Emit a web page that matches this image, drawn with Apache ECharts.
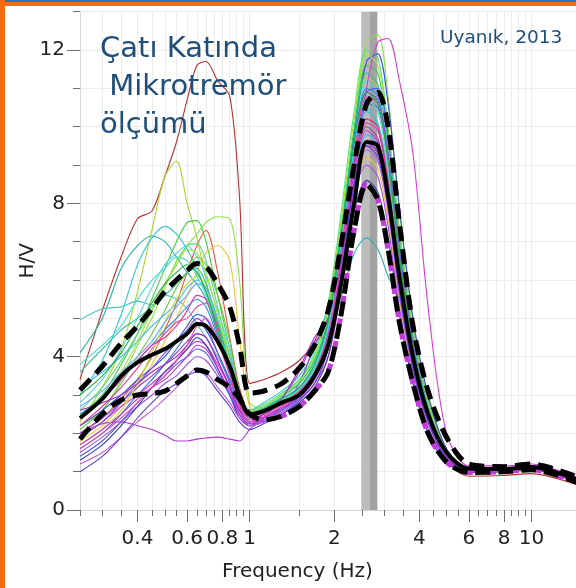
<!DOCTYPE html>
<html>
<head>
<meta charset="utf-8">
<script src="https://cdn.jsdelivr.net/npm/echarts@6/dist/echarts.min.js"></script>
<style>
  html, body { margin: 0; padding: 0; background: #ffffff; }
  #chart { width: 576px; height: 588px; }
</style>
</head>
<body>
<div id="chart"></div>
<script>
// Frequency samples (Hz) shared by every H/V curve
const freq = [0.25, 0.3, 0.35, 0.4, 0.45, 0.5, 0.55, 0.6, 0.65, 0.7, 0.77, 0.85, 0.92, 1.0,
              1.12, 1.3, 1.5, 1.7, 1.9, 2.1, 2.35, 2.6, 2.85, 3.1, 3.4, 3.8, 4.3, 5.0, 6.0, 8.0, 10, 15];

// Axis ticks and labels
const minorTickFreqs = [0.25, 0.3, 0.35, 0.4, 0.45, 0.5, 0.55, 0.6, 0.65, 0.7, 0.75, 0.8, 0.85, 0.9, 0.95, 1,
                        1.5, 2, 2.5, 3, 3.5, 4, 4.5, 5, 5.5, 6, 6.5, 7, 7.5, 8, 8.5, 9, 9.5, 10];
const majorTickFreqs = [0.4, 0.6, 0.8, 1, 2, 4, 6, 8, 10];
const majorTickHV = [0, 4, 8, 12];

// Selected peak frequency range (Hz)
const peakBandLow = [2.49, 2.66];
const peakBandHigh = [2.66, 2.84];

// Average curve and average +/- one standard deviation
const hvMean  = [2.4, 2.9, 3.5, 3.85, 4.05, 4.2, 4.4, 4.6, 4.85, 4.8, 4.4, 3.75, 3.0, 2.5,
                 2.58, 2.8, 3.0, 3.5, 4.3, 5.8, 8.0, 9.6, 9.5, 8.2, 6.1, 4.0, 2.5, 1.5, 1.08, 1.07, 1.12, 0.75];
const hvUpper = [3.13, 3.75, 4.35, 4.8, 5.25, 5.7, 6.0, 6.25, 6.43, 6.35, 5.9, 5.3, 4.3, 3.05,
                 3.1, 3.3, 3.7, 4.3, 5.2, 6.8, 9.0, 10.6, 10.9, 10.0, 7.5, 4.8, 3.1, 1.9, 1.2, 1.13, 1.2, 0.82];
const hvLower = [1.85, 2.5, 2.87, 3.0, 3.04, 3.1, 3.3, 3.5, 3.65, 3.6, 3.4, 3.2, 2.9, 2.5,
                 2.35, 2.45, 2.7, 3.1, 3.6, 5.0, 7.3, 8.5, 8.1, 6.8, 4.9, 3.3, 2.0, 1.25, 0.98, 1.0, 1.05, 0.68];

// Individual measurement windows
const hv01 = [3.4, 5.2, 6.6, 7.6, 7.8, 8.7, 9.6, 10.7, 11.6, 11.7, 11.2, 10.8, 8.2, 3.3,
              3.4, 3.6, 3.9, 4.4, 5.3, 7.0, 9.0, 10.2, 10.0, 8.6, 6.3, 4.0, 2.4, 1.3, 0.88, 0.9, 0.95, 0.62];
const hv02 = [2.3, 3.2, 4.2, 5.7, 7.3, 8.7, 9.1, 8.0, 7.1, 6.0, 4.7, 3.7, 2.9, 2.6,
              2.7, 3.0, 3.3, 3.9, 5.0, 7.0, 9.8, 11.3, 11.0, 9.4, 6.9, 4.4, 2.7, 1.5, 1.05, 1.06, 1.12, 0.75];
const hv03 = [2.2, 2.6, 3.4, 4.3, 5.0, 5.8, 6.5, 6.9, 7.2, 7.5, 7.65, 7.6, 6.0, 2.8,
              2.65, 2.9, 3.2, 3.8, 4.9, 6.9, 10.0, 12.2, 12.4, 10.8, 7.8, 4.9, 2.9, 1.6, 1.1, 1.1, 1.16, 0.8];
const hv04 = [3.0, 3.9, 5.1, 6.4, 7.1, 7.4, 7.2, 6.8, 6.3, 5.7, 4.9, 4.0, 3.0, 2.6,
              2.8, 3.1, 3.5, 4.2, 5.4, 7.3, 9.5, 10.5, 10.0, 8.4, 6.0, 3.8, 2.3, 1.4, 1.05, 1.05, 1.1, 0.72];
const hv05 = [4.1, 5.0, 6.3, 6.9, 7.15, 7.0, 6.6, 6.2, 5.9, 5.5, 4.6, 3.7, 2.9, 2.5,
              2.7, 2.9, 3.2, 3.7, 4.4, 5.5, 6.7, 7.1, 6.8, 6.1, 5.5, 4.5, 2.8, 1.5, 1.05, 1.05, 1.1, 0.72];
const hv06 = [4.96, 5.25, 5.3, 5.45, 5.35, 5.6, 5.5, 5.25, 4.85, 4.5, 4.0, 3.4, 2.8, 2.5,
              2.6, 2.8, 3.1, 3.6, 4.5, 6.2, 8.6, 9.8, 9.6, 8.2, 5.9, 3.8, 2.3, 1.4, 1.05, 1.05, 1.1, 0.72];
const hv07 = [2.5, 3.0, 3.8, 4.6, 5.5, 6.3, 7.0, 7.5, 7.55, 7.0, 5.6, 4.2, 3.0, 2.55,
              2.7, 3.0, 3.4, 4.0, 5.2, 7.2, 9.9, 11.6, 11.4, 9.8, 7.2, 4.6, 2.8, 1.55, 1.08, 1.08, 1.14, 0.78];
const hv08 = [2.0, 2.4, 2.9, 3.4, 4.0, 4.7, 5.4, 6.2, 6.9, 7.3, 6.2, 4.5, 3.2, 2.6,
              2.6, 2.8, 3.0, 3.5, 4.5, 6.3, 8.6, 9.6, 9.3, 8.0, 5.8, 3.7, 2.3, 1.35, 0.98, 1.0, 1.04, 0.68];
const hv09 = [1.8, 2.2, 2.7, 3.2, 3.8, 4.4, 5.0, 5.6, 6.2, 6.7, 6.9, 6.5, 4.5, 2.7,
              2.5, 2.7, 2.9, 3.3, 4.2, 6.0, 8.3, 9.2, 8.9, 7.6, 5.5, 3.6, 2.3, 1.35, 1.0, 1.02, 1.06, 0.7];
const hv10 = [2.8, 3.4, 4.2, 5.0, 5.8, 6.4, 6.7, 6.9, 6.6, 6.1, 5.2, 4.2, 3.1, 2.6,
              2.7, 3.0, 3.3, 3.9, 5.0, 7.0, 9.7, 11.2, 10.9, 9.4, 6.8, 4.3, 2.6, 1.5, 1.06, 1.07, 1.13, 0.75];
const hv11 = [2.6, 3.2, 3.9, 4.6, 5.2, 5.9, 6.4, 6.9, 6.95, 6.5, 5.3, 4.0, 3.0, 2.6,
              2.75, 3.05, 3.4, 4.1, 5.4, 7.6, 10.4, 12.0, 11.8, 10.0, 7.2, 4.6, 2.8, 1.55, 1.08, 1.08, 1.15, 0.78];
const hv12 = [2.1, 2.6, 3.3, 4.0, 4.6, 5.2, 5.8, 6.2, 6.6, 6.4, 5.6, 4.4, 3.1, 2.55,
              2.6, 2.85, 3.15, 3.7, 4.7, 6.6, 9.2, 10.4, 10.1, 8.7, 6.3, 4.0, 2.5, 1.45, 1.05, 1.05, 1.1, 0.73];
const hv13 = [1.6, 2.0, 2.5, 3.0, 3.4, 3.8, 4.2, 4.6, 4.9, 4.7, 4.1, 3.4, 2.7, 2.3,
              2.4, 2.65, 2.95, 3.4, 4.3, 6.2, 9.0, 10.6, 10.5, 9.2, 6.8, 4.4, 2.7, 1.5, 1.05, 1.06, 1.12, 0.74];
const hv14 = [2.2, 2.6, 3.0, 3.4, 3.7, 4.0, 4.4, 4.8, 5.1, 5.0, 4.4, 3.6, 2.8, 2.4,
              2.55, 2.8, 3.1, 3.6, 4.6, 6.7, 9.8, 11.7, 11.9, 10.6, 7.9, 5.0, 3.0, 1.6, 1.1, 1.1, 1.15, 0.78];
const hv15 = [2.0, 2.4, 2.8, 3.2, 3.5, 3.8, 4.1, 4.4, 4.6, 4.5, 3.9, 3.2, 2.5, 2.2,
              2.4, 2.7, 3.3, 4.3, 5.0, 6.4, 8.6, 9.6, 9.3, 8.0, 5.8, 3.7, 2.3, 1.35, 1.02, 1.04, 1.1, 0.72];
const hv16 = [1.9, 2.3, 2.7, 3.0, 3.3, 3.6, 3.9, 4.2, 4.4, 4.3, 3.8, 3.2, 2.6, 2.3,
              2.4, 2.6, 2.9, 3.3, 4.0, 5.6, 8.4, 11.0, 12.2, 12.3, 11.2, 9.3, 5.3, 2.0, 1.15, 1.15, 1.2, 0.8];
const hv17 = [1.5, 1.9, 2.3, 2.7, 3.0, 3.3, 3.5, 3.8, 4.0, 3.9, 3.5, 3.0, 2.5, 2.2,
              2.3, 2.55, 2.9, 3.4, 4.3, 6.0, 8.2, 9.0, 8.7, 7.4, 5.3, 3.4, 2.1, 1.3, 1.0, 1.02, 1.08, 0.7];
const hv18 = [2.0, 2.25, 2.3, 2.2, 2.1, 1.95, 1.8, 1.8, 1.85, 1.88, 1.9, 1.85, 1.8, 2.1,
              2.4, 2.9, 3.6, 4.4, 4.6, 6.0, 8.4, 9.5, 9.4, 8.3, 6.1, 3.9, 2.4, 1.4, 1.05, 1.08, 1.14, 0.76];
const hv19 = [2.2, 2.7, 3.2, 3.7, 4.2, 4.6, 4.9, 5.0, 5.3, 5.4, 4.6, 3.6, 2.7, 2.35,
              2.5, 2.75, 3.0, 3.5, 4.4, 6.3, 8.9, 10.1, 9.9, 8.5, 6.2, 4.0, 2.5, 1.45, 1.05, 1.06, 1.12, 0.74];
const hv20 = [2.5, 2.9, 3.4, 3.9, 4.3, 4.7, 5.0, 5.3, 5.5, 5.3, 4.5, 3.6, 2.8, 2.45,
              2.6, 2.85, 3.15, 3.7, 4.8, 6.9, 9.6, 11.0, 10.8, 9.3, 6.8, 4.3, 2.6, 1.5, 1.06, 1.07, 1.12, 0.75];
const hv21 = [1.3, 1.7, 2.2, 2.7, 3.2, 3.6, 3.9, 4.2, 4.5, 4.3, 3.7, 3.0, 2.4, 2.2,
              2.3, 2.5, 2.8, 3.2, 4.0, 5.7, 7.8, 8.6, 8.3, 7.1, 5.1, 3.3, 2.0, 1.25, 0.98, 1.0, 1.05, 0.68];
const hv22 = [3.2, 3.6, 4.0, 4.4, 4.8, 5.1, 5.4, 5.8, 6.0, 5.7, 4.8, 3.8, 2.9, 2.5,
              2.65, 2.9, 3.2, 3.8, 4.9, 6.8, 9.3, 10.4, 10.1, 8.7, 6.3, 4.0, 2.5, 1.45, 1.05, 1.05, 1.1, 0.73];
const hv23 = [1.7, 2.1, 2.6, 3.3, 4.1, 4.9, 5.5, 5.9, 6.1, 5.8, 4.9, 3.9, 2.9, 2.5,
              2.6, 2.85, 3.1, 3.6, 4.6, 6.4, 8.9, 10.0, 9.7, 8.3, 6.0, 3.9, 2.4, 1.42, 1.03, 1.04, 1.1, 0.72];
const hv24 = [1.9, 2.3, 2.8, 3.3, 3.7, 4.1, 4.4, 4.7, 5.0, 4.8, 4.1, 3.3, 2.6, 2.3,
              2.5, 2.75, 3.05, 3.6, 4.6, 6.6, 9.3, 10.9, 10.7, 9.3, 6.8, 4.4, 2.7, 1.5, 1.07, 1.08, 1.14, 0.76];
const hv25 = [1.2, 1.5, 1.9, 2.3, 2.6, 2.9, 3.2, 3.5, 3.7, 3.6, 3.2, 2.8, 2.4, 2.2,
              2.3, 2.6, 3.0, 3.5, 4.3, 6.0, 8.4, 9.4, 9.1, 7.8, 5.6, 3.6, 2.2, 1.3, 1.0, 1.02, 1.08, 0.7];
const hv26 = [2.4, 2.9, 3.4, 3.9, 4.3, 4.5, 4.8, 5.2, 5.6, 5.5, 4.8, 3.8, 2.8, 2.4,
              2.55, 2.8, 3.1, 3.6, 4.6, 6.5, 9.0, 10.2, 10.0, 8.6, 6.3, 4.0, 2.5, 1.45, 1.05, 1.06, 1.1, 0.74];
const hv27 = [3.6, 4.2, 4.7, 5.0, 5.3, 5.6, 5.9, 6.2, 6.3, 5.9, 4.9, 3.8, 2.9, 2.5,
              2.65, 2.95, 3.3, 3.9, 5.0, 7.1, 9.9, 11.4, 11.1, 9.6, 7.0, 4.5, 2.7, 1.5, 1.07, 1.08, 1.13, 0.76];
const hv28 = [1.4, 1.8, 2.3, 2.8, 3.2, 3.5, 3.8, 4.0, 4.2, 4.1, 3.6, 3.0, 2.5, 2.25,
              2.35, 2.6, 2.95, 3.5, 4.5, 6.4, 9.2, 10.9, 11.0, 9.8, 7.3, 4.7, 2.8, 1.55, 1.08, 1.1, 1.15, 0.78];
const hv29 = [2.7, 3.1, 3.6, 4.0, 4.4, 4.9, 5.3, 5.6, 5.9, 5.8, 5.0, 4.0, 3.0, 2.5,
              2.6, 2.9, 3.2, 3.7, 4.7, 6.5, 8.8, 9.8, 9.5, 8.1, 5.9, 3.8, 2.4, 1.42, 1.04, 1.05, 1.1, 0.73];
const hv30 = [2.4, 2.9, 3.6, 4.4, 5.2, 5.9, 6.4, 6.8, 6.7, 6.2, 5.1, 3.9, 2.9, 2.55,
              2.7, 3.0, 3.35, 4.0, 5.3, 7.4, 10.2, 11.9, 11.6, 10.0, 7.3, 4.7, 2.8, 1.55, 1.08, 1.08, 1.14, 0.77];
const hv31 = [2.6, 2.8, 3.0, 3.3, 3.6, 3.8, 4.0, 4.3, 4.6, 4.5, 3.9, 3.2, 2.6, 2.3,
              2.5, 2.9, 3.7, 4.5, 5.0, 6.6, 9.0, 10.0, 9.7, 8.3, 6.0, 3.9, 2.4, 1.4, 1.04, 1.06, 1.12, 0.74];
const hv32 = [1.7, 2.1, 2.5, 2.9, 3.2, 3.4, 3.7, 4.0, 4.3, 4.2, 3.7, 3.1, 2.5, 2.25,
              2.4, 2.65, 3.0, 3.5, 4.4, 6.3, 8.8, 9.9, 9.6, 8.3, 6.1, 3.9, 2.4, 1.42, 1.06, 1.08, 1.14, 0.76];
const hv33 = [3.8, 4.3, 4.8, 5.5, 6.0, 6.3, 6.6, 6.5, 6.1, 5.6, 4.7, 3.8, 2.9, 2.5,
              2.6, 2.85, 3.15, 3.7, 4.8, 6.8, 9.4, 10.7, 10.4, 8.9, 6.5, 4.1, 2.5, 1.45, 1.05, 1.06, 1.11, 0.74];
const hv34 = [1.0, 1.4, 1.9, 2.4, 2.8, 3.1, 3.3, 3.5, 3.6, 3.5, 3.1, 2.7, 2.3, 2.1,
              2.25, 2.5, 2.85, 3.3, 4.2, 6.0, 8.5, 9.5, 9.2, 7.9, 5.7, 3.7, 2.3, 1.35, 1.02, 1.04, 1.09, 0.72];
const hv35 = [1.6, 2.0, 2.4, 2.8, 3.2, 3.5, 3.9, 4.3, 4.8, 5.0, 4.4, 3.5, 2.7, 2.3,
              2.45, 2.7, 3.0, 3.5, 4.5, 6.5, 9.2, 10.8, 10.6, 9.1, 6.6, 4.2, 2.6, 1.5, 1.06, 1.06, 1.12, 0.75];
const hv36 = [3.0, 3.5, 4.1, 4.8, 5.4, 5.9, 6.2, 6.4, 6.2, 5.7, 4.7, 3.7, 2.9, 2.5,
              2.6, 2.9, 3.2, 3.8, 4.9, 7.0, 9.6, 10.9, 10.6, 9.1, 6.6, 4.2, 2.6, 1.48, 1.06, 1.07, 1.12, 0.75];

const windows = [hv01, hv02, hv03, hv04, hv05, hv06, hv07, hv08, hv09, hv10, hv11, hv12,
                 hv13, hv14, hv15, hv16, hv17, hv18, hv19, hv20, hv21, hv22, hv23, hv24,
                 hv25, hv26, hv27, hv28, hv29, hv30, hv31, hv32, hv33, hv34, hv35, hv36];
const windowColors = ['#b5312f', '#a6d62b', '#8fe04a', '#35c9d6', '#2bb3a8', '#4cc2c0',
                      '#3fcf3f', '#e3573b', '#f2c23a', '#5fd3e8', '#58e07a', '#6cc644',
                      '#2f6fe0', '#3050d8', '#8a3fd6', '#d63bd6', '#a050e0', '#b23ad0',
                      '#e040a0', '#2a8fe8', '#3a3ab8', '#49b8f0', '#b6e83a', '#7c4ee0',
                      '#c65bd8', '#e0309a', '#2fbf8f', '#4a5ef0', '#6aa8ff', '#9ee63c',
                      '#9b30c8', '#cc33cc', '#40e0d0', '#5a3ee0', '#f04ab0', '#20b040'];

const pairs = (xs, ys) => xs.map((x, i) => [x, ys[i]]);

const FONT = '"DejaVu Sans", Verdana, sans-serif';
const X_MIN = 0.25, X_MAX = 14.4, Y_MIN = 0, Y_MAX = 13;

const series = [];

// Background band marking the selected peak frequency
series.push({
  type: 'line', data: [], z: 1, silent: true, symbol: 'none',
  markArea: {
    silent: true,
    data: [
      [{ xAxis: peakBandLow[0], itemStyle: { color: '#bdbdbd' } }, { xAxis: peakBandLow[1] }],
      [{ xAxis: peakBandHigh[0], itemStyle: { color: '#a3a3a3' } }, { xAxis: peakBandHigh[1] }]
    ]
  }
});

windows.forEach((w, i) => {
  series.push({
    type: 'line', z: 3, symbol: 'none', smooth: 0.3, silent: true,
    data: pairs(freq, w),
    lineStyle: { width: 1.1, color: windowColors[i] }
  });
});

// Std-dev curves: magenta under-stroke above 1 Hz, black dashes on top
[hvUpper, hvLower].forEach(c => {
  series.push({
    type: 'line', z: 4, symbol: 'none', smooth: 0.3, silent: true,
    data: pairs(freq.slice(13), c.slice(13)),
    lineStyle: { width: 5, color: '#c23ad8', type: [8, 15], dashOffset: 15 }
  });
});
[hvUpper, hvLower].forEach(c => {
  series.push({
    type: 'line', z: 5, symbol: 'none', smooth: 0.3, silent: true,
    data: pairs(freq, c),
    lineStyle: { width: 5, color: '#000', type: [15, 8] }
  });
});
series.push({
  type: 'line', z: 6, symbol: 'none', smooth: 0.3, silent: true,
  data: pairs(freq, hvMean),
  lineStyle: { width: 4, color: '#000' }
});

const chart = echarts.init(document.getElementById('chart'), null, { renderer: 'canvas' });
chart.setOption({
  animation: false,
  backgroundColor: '#ffffff',
  grid: { left: 80, right: 0, top: 11.7, bottom: 78, outerBoundsMode: 'none' },
  xAxis: [
    {
      type: 'log', logBase: 10, min: X_MIN, max: X_MAX, position: 'bottom',
      axisLine: { show: true, lineStyle: { color: '#d6d6d6', width: 1 } },
      axisTick: { show: true, length: 6, customValues: minorTickFreqs, lineStyle: { color: '#6e6e6e', width: 1 } },
      axisLabel: { show: false },
      splitLine: { show: true, lineStyle: { color: '#ececec', width: 1 } },
      name: 'Frequency (Hz)', nameLocation: 'middle', nameGap: 52,
      nameTextStyle: { fontFamily: FONT, fontSize: 20, color: '#222', padding: [0, 61, 0, 0] }
    },
    {
      type: 'log', logBase: 10, min: X_MIN, max: X_MAX, position: 'bottom',
      axisLine: { show: false },
      axisTick: { show: true, length: 12, customValues: majorTickFreqs, lineStyle: { color: '#6e6e6e', width: 1 } },
      axisLabel: { show: true, customValues: majorTickFreqs, margin: 19,
                   fontFamily: FONT, fontSize: 20, color: '#222',
                   formatter: v => String(v) },
      splitLine: { show: false }
    }
  ],
  yAxis: [
    {
      type: 'value', min: Y_MIN, max: Y_MAX, interval: 1, position: 'left',
      axisLine: { show: true, lineStyle: { color: '#d6d6d6', width: 1 } },
      axisTick: { show: true, length: 7, lineStyle: { color: '#6e6e6e', width: 1 } },
      axisLabel: { show: false },
      splitLine: { show: true, lineStyle: { color: '#ececec', width: 1 } },
      name: 'H/V', nameLocation: 'middle', nameGap: 42,
      nameTextStyle: { fontFamily: FONT, fontSize: 20, color: '#222' }
    },
    {
      type: 'value', min: Y_MIN, max: Y_MAX, position: 'left',
      axisLine: { show: false },
      axisTick: { show: true, length: 13, customValues: majorTickHV, lineStyle: { color: '#6e6e6e', width: 1 } },
      axisLabel: { show: true, customValues: majorTickHV, margin: 15,
                   fontFamily: FONT, fontSize: 20, color: '#222', padding: [4, 0, 0, 0] },
      splitLine: { show: false }
    }
  ],
  graphic: [
    { type: 'rect', z: 100, shape: { x: 0, y: 0, width: 576, height: 2 }, style: { fill: '#2e75b6' } },
    { type: 'rect', z: 100, shape: { x: 0, y: 2, width: 576, height: 4 }, style: { fill: '#f26b0f' } },
    { type: 'rect', z: 100, shape: { x: 0, y: 0, width: 5, height: 588 }, style: { fill: '#f26b0f' } },
    { type: 'text', z: 100, x: 100, y: 49,
      style: { text: 'Çatı Katında', font: '29px ' + FONT, fill: '#1f4e79', verticalAlign: 'middle' } },
    { type: 'text', z: 100, x: 100, y: 87.5,
      style: { text: ' Mikrotremör', font: '29px ' + FONT, fill: '#1f4e79', verticalAlign: 'middle' } },
    { type: 'text', z: 100, x: 100, y: 125,
      style: { text: 'ölçümü', font: '29px ' + FONT, fill: '#1f4e79', verticalAlign: 'middle' } },
    { type: 'text', z: 100, x: 440, y: 38.5,
      style: { text: 'Uyanık, 2013', font: '18.5px ' + FONT, fill: '#1f4e79', verticalAlign: 'middle' } }
  ],
  series: series
});
</script>
</body>
</html>
